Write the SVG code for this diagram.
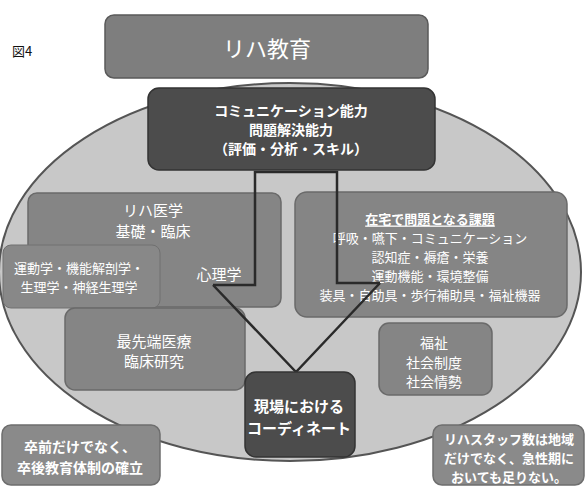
<svg xmlns="http://www.w3.org/2000/svg" width="586" height="487" viewBox="0 0 586 487">
<style>
text{font-family:"Noto Sans CJK JP","Noto Sans",sans-serif;fill:#fff;text-anchor:middle;dominant-baseline:central}
.box{fill:#858585;stroke:#6a6a6a;stroke-width:1.5}
.dark{fill:#4c4c4c;stroke:#333;stroke-width:1.5}
.t15{font-size:15px}
.t14{font-size:14px}
.t13{font-size:13px}
.b{font-weight:bold}
.conn{fill:none;stroke:#2a2a2a;stroke-width:2.5}
</style>
<rect width="586" height="487" fill="#fff"/>
<text x="22" y="50" style="fill:#111;font-size:13px">図4</text>
<g id="ellipse"><ellipse cx="290" cy="272" rx="291" ry="189" fill="#c8c8c8" stroke="#555" stroke-width="2"/></g>
<g id="riha-kyoiku"><rect x="105" y="15" width="323" height="63" rx="9" fill="#7e7e7e" stroke="#5a5a5a" stroke-width="1.5"/>
<text x="267" y="47" style="font-size:22px">リハ教育</text></g>
<g id="riha-igaku"><rect class="box" x="28" y="193" width="253" height="114" rx="9"/>
<text class="t15" x="153" y="209">リハ医学</text><text class="t15" x="153" y="230">基礎・臨床</text>
<text class="t15" x="219" y="273">心理学</text></g>
<g id="undogaku"><rect x="3" y="245" width="157" height="63" rx="8" fill="#888" stroke="#707070" stroke-width="1"/>
<text class="t13" x="79" y="267">運動学・機能解剖学・</text><text class="t13" x="79" y="286">生理学・神経生理学</text></g>
<g id="zaitaku"><rect class="box" x="295" y="192" width="272" height="125" rx="12"/>
<text class="t13 b" x="430" y="218" text-decoration="underline">在宅で問題となる課題</text>
<text class="t13" x="430" y="237">呼吸・嚥下・コミュニケーション</text>
<text class="t13" x="430" y="256">認知症・褥瘡・栄養</text>
<text class="t13" x="430" y="275">運動機能・環境整備</text>
<text class="t13" x="430" y="294">装具・自助具・歩行補助具・福祉機器</text></g>
<g id="saisentan"><rect class="box" x="65" y="308" width="180" height="82" rx="10"/>
<text class="t15" x="154" y="340">最先端医療</text><text class="t15" x="154" y="360">臨床研究</text></g>
<g id="fukushi"><rect class="box" x="379" y="323" width="113" height="72" rx="10"/>
<text class="t14" x="434" y="342">福祉</text><text class="t14" x="434" y="362">社会制度</text><text class="t14" x="434" y="381">社会情勢</text></g>
<g id="connectors">
<path class="conn" d="M213 285 L255 285 L255 172 L337 172 L337 283 L380 283"/>
<path class="conn" d="M213 285 L296 372 L380 283"/>
</g>
<g id="communication"><rect class="dark" x="148" y="88" width="287" height="82" rx="11"/>
<text class="t14 b" x="291" y="110">コミュニケーション能力</text>
<text class="t14 b" x="291" y="129">問題解決能力</text>
<text class="t14 b" x="291" y="148">（評価・分析・スキル）</text></g>
<g id="genba"><rect class="dark" x="245" y="372" width="110" height="85" rx="11"/>
<text class="t15 b" x="299" y="405">現場における</text><text class="t15 b" x="299" y="427">コーディネート</text></g>
<g id="sotsuzen"><rect x="2" y="425" width="158" height="60" rx="9" fill="#8a8a8a" stroke="#6e6e6e" stroke-width="1.5"/>
<text class="t14 b" x="80" y="446">卒前だけでなく、</text><text class="t14 b" x="80" y="467">卒後教育体制の確立</text></g>
<g id="staff"><rect x="433" y="425" width="151" height="60" rx="9" fill="#8a8a8a" stroke="#6e6e6e" stroke-width="1.5"/>
<text class="t13 b" x="509" y="438">リハスタッフ数は地域</text><text class="t13 b" x="509" y="457">だけでなく、急性期に</text><text class="t13 b" x="509" y="476">おいても足りない。</text></g>
</svg>
